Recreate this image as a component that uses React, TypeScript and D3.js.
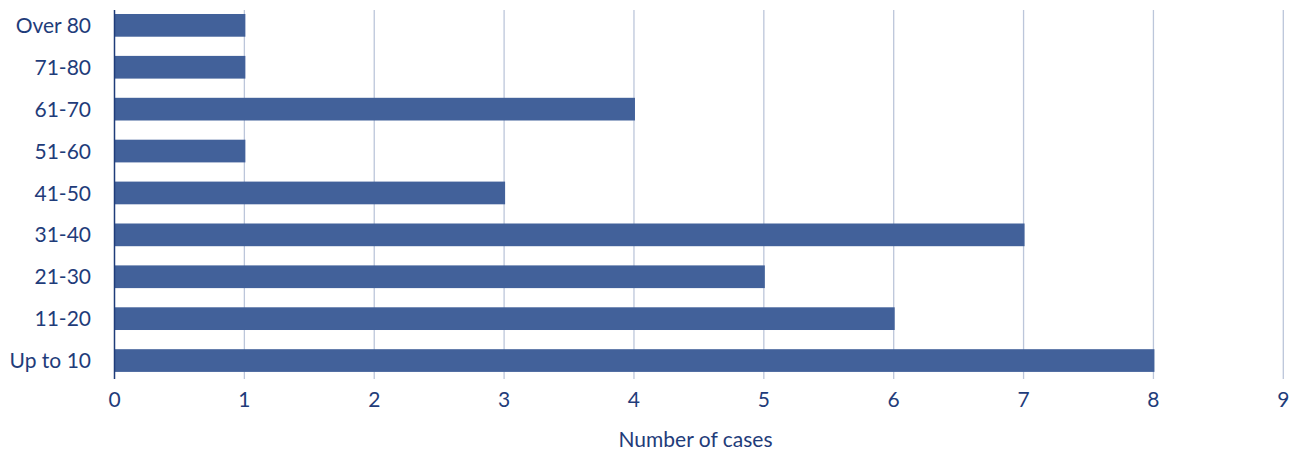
import React from "react";
import * as d3 from "d3";

// Age groups, listed from top to bottom
const ageGroups = ["Over 80", "71-80", "61-70", "51-60", "41-50", "31-40", "21-30", "11-20", "Up to 10"];
const caseCounts = [1, 1, 4, 1, 3, 7, 5, 6, 8];
const xTicks = [0, 1, 2, 3, 4, 5, 6, 7, 8, 9];
const xTitle = "Number of cases";

const WIDTH = 1293;
const HEIGHT = 450;
const BAR = "#42619a";
const GRID = "#bcc6da";
const AXIS = "#1f3c7a";
const TEXT = "#1f3c7a";
const FONT = "Lato, 'Open Sans', sans-serif";

export default function App() {
  const x = d3.scaleLinear().domain([0, 9]).range([114.5, 1283.3]);
  const y = d3.scaleBand<string>().domain(ageGroups).range([4.4, 381.5]).paddingInner(0.458).paddingOuter(0.229);
  const plotTop = 10;
  const plotBottom = 379;

  return (
    <svg
      width={WIDTH}
      height={HEIGHT}
      style={{ position: "absolute", left: 0, top: 0, background: "#fff" }}
      fontFamily={FONT}
    >
      {/* vertical gridlines */}
      {xTicks.slice(1).map((t) => (
        <line key={t} x1={x(t)} x2={x(t)} y1={plotTop} y2={plotBottom} stroke={GRID} strokeWidth={1.3} />
      ))}
      {/* bars */}
      {ageGroups.map((g, i) => (
        <rect key={g} x={x(0)} y={y(g)} width={x(caseCounts[i]) - x(0) + 1} height={y.bandwidth()} fill={BAR} />
      ))}
      {/* category axis line */}
      <line x1={x(0)} x2={x(0)} y1={plotTop} y2={plotBottom} stroke={AXIS} strokeWidth={1.5} />
      {/* category labels */}
      {ageGroups.map((g) => (
        <text
          key={g}
          x={91}
          y={(y(g) as number) + y.bandwidth() / 2}
          dy="0.36em"
          textAnchor="end"
          fontSize={21}
          fill={TEXT}
        >
          {g}
        </text>
      ))}
      {/* value tick labels */}
      {xTicks.map((t) => (
        <text key={t} x={x(t)} y={407} textAnchor="middle" fontSize={21} fill={TEXT}>
          {t}
        </text>
      ))}
      <text x={695.5} y={447} textAnchor="middle" fontSize={21} fill={TEXT}>
        {xTitle}
      </text>
    </svg>
  );
}
